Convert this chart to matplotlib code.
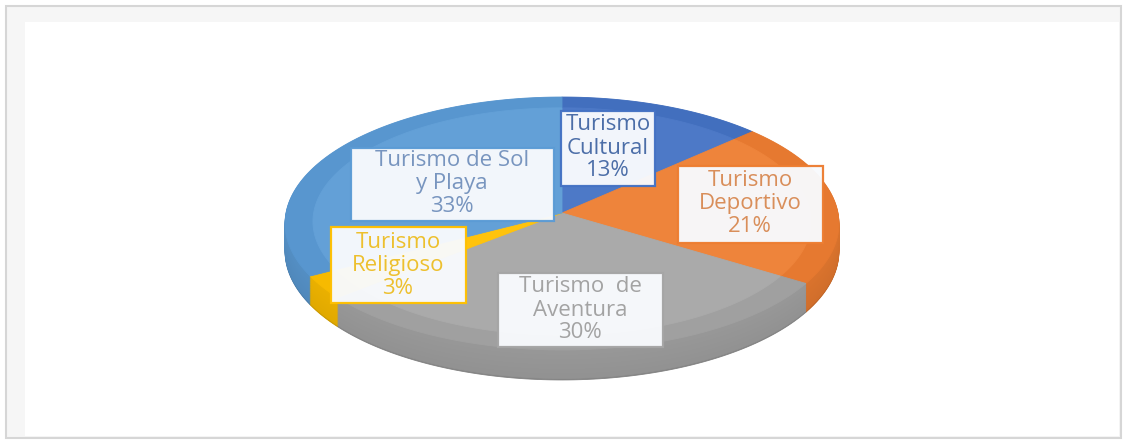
import numpy as np
import matplotlib
matplotlib.use("Agg")
import matplotlib.pyplot as plt
from matplotlib import transforms as mtransforms
from matplotlib.path import Path
from matplotlib.patches import Rectangle
from matplotlib.colors import to_rgb

# ---- data -------------------------------------------------------------
categories = ["Turismo Cultural", "Turismo Deportivo", "Turismo de Aventura",
              "Turismo Religioso", "Turismo de Sol y Playa"]
shares = [13, 21, 30, 3, 33]
label_lines = [["Turismo", "Cultural"],
               ["Turismo", "Deportivo"],
               ["Turismo  de", "Aventura"],
               ["Turismo", "Religioso"],
               ["Turismo de Sol", "y Playa"]]

# ---- style ------------------------------------------------------------
slice_colors = ["#4472C4", "#ED7D31", "#A5A5A5", "#FFC000", "#5B9BD5"]
text_colors = ["#4C6EA8", "#D98E5A", "#A3A3A3", "#EDC02E", "#7895BF"]
# label box centre (x, y) and size (w, h) in figure pixels
box_centers = [(608, 148), (750, 204), (580, 310), (398, 265), (452, 184)]
box_sizes = [(94, 75), (145, 77), (165, 74), (135, 76), (203, 73)]
line_gap = 23

W, H = 1128, 445
plt.rcParams["font.family"] = ["Open Sans", "DejaVu Sans"]


class DiscPerspective(mtransforms.Transform):
    """Projects the unit disc (x across, y into the page) onto a tilted view."""
    input_dims = 2
    output_dims = 2
    is_separable = False
    has_inverse = False

    def __init__(self, cx, cy, a, b, e, drop=0.0, samples=24):
        super().__init__()
        self.cx, self.cy, self.a, self.b, self.e = cx, cy, a, b, e
        self.drop = drop
        self.samples = samples

    def transform_non_affine(self, values):
        v = np.asarray(values, float).reshape(-1, 2)
        x, z = v[:, 0], v[:, 1]
        w = 1.0 + self.e * z
        return np.column_stack([self.cx + self.a * x / w,
                                self.cy - (self.b * z - self.drop) / w])

    def transform_path_non_affine(self, path):
        # sample the curves densely so the projection bends them properly
        t = np.linspace(0.0, 1.0, self.samples)
        pts = np.concatenate([seg(t) for seg, _ in path.iter_bezier()])
        pts = np.vstack([pts, pts[:1]])
        return Path(self.transform_non_affine(pts), closed=True)


def shade(c, f):
    r, g, b = to_rgb(c)
    return (r * f, g * f, b * f)


def tint(c, f):
    r, g, b = to_rgb(c)
    return (r + (1 - r) * f, g + (1 - g) * f, b + (1 - b) * f)


fig = plt.figure(figsize=(W / 100, H / 100), dpi=100)
fig.patch.set_facecolor("white")
ax = fig.add_axes([0, 0, 1, 1])

# chart frame
ax.add_patch(Rectangle((6, 6), 1115, 432, facecolor="#F6F6F6",
                       edgecolor="#D6D6D6", linewidth=1.5, zorder=0))
ax.add_patch(Rectangle((25, 22), 1094, 414, facecolor="white",
                       edgecolor="none", zorder=0.5))

# projection parameters of the disc
cx, cy, a, b, e = 562, 213, 276, 125.6, 0.083
depth = 27.5

pie_kw = dict(startangle=90, counterclock=False, normalize=True)


def draw_layer(colors, zorder, drop=0.0, radius=1.0):
    wedges, _ = ax.pie(shares, colors=colors, radius=radius,
                       wedgeprops=dict(linewidth=0.6), **pie_kw)
    for wdg in wedges:
        wdg.set_edgecolor(wdg.get_facecolor())
        wdg.set_transform(DiscPerspective(cx, cy, a, b, e, drop=drop) + ax.transData)
        wdg.set_zorder(zorder)


# side wall: stacked layers from the bottom up
n_layers = 40
for k, d in enumerate(np.linspace(depth, 0, n_layers, endpoint=False)):
    f = 0.80 if k < 2 else 0.88 + 0.04 * (k / n_layers)
    draw_layer([shade(c, f) for c in slice_colors], 1 + k * 0.001, drop=d)

# top face with a slightly lighter inner area (bevel look)
draw_layer([shade(c, 0.97) for c in slice_colors], 2)
draw_layer([tint(c, 0.05) for c in slice_colors], 2.1, radius=0.9)

# data callouts
for lines, v, col, tcol, (bx, by), (bw, bh) in zip(label_lines, shares, slice_colors,
                                                   text_colors, box_centers, box_sizes):
    ax.add_patch(Rectangle((bx - bw / 2, by - bh / 2), bw, bh,
                           facecolor="#F8FAFD", edgecolor=col, linewidth=1.6,
                           alpha=0.97, zorder=3))
    rows = lines + [f"{v}%"]
    for i, row in enumerate(rows):
        ax.text(bx, by + (i - 1) * line_gap, row, ha="center", va="center",
                fontsize=16, color=tcol, zorder=4)

ax.set_aspect("auto")
ax.set_xlim(0, W)
ax.set_ylim(H, 0)
ax.axis("off")

fig.savefig("out.png", dpi=100, facecolor="white")
